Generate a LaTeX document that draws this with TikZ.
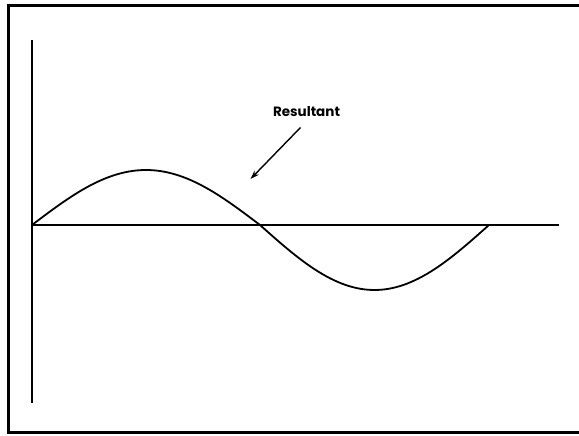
\documentclass[tikz,border=0pt]{standalone}
\usepackage{fontspec}
\setmainfont{Poppins}
\usetikzlibrary{arrows.meta}
\begin{document}
\begin{tikzpicture}[x=1pt,y=-1pt,
  frameline/.style={line width=3pt},
  axisline/.style={line width=1.4pt},
  wave/.style={line width=1.8pt},
  lbl/.style={font=\fontsize{13.5}{16}\selectfont\bfseries, inner sep=0pt}]
\useasboundingbox (0,0) rectangle (579,436);
% frame
\coordinate (ftr) at (579,6);
\coordinate (ftl) at (8.5,6);
\coordinate (fbl) at (8.5,432.5);
\coordinate (fbr) at (579,432.5);
\draw[frameline] (ftr) -- (ftl) -- (fbl) -- (fbr);
% axes
\coordinate (ytop) at (32,40);
\coordinate (ybot) at (32,403);
\coordinate (origin) at (32,225);
\coordinate (xend) at (559,225);
\draw[axisline] (ytop) -- (ybot);
\draw[axisline] (origin) -- (xend);
% resultant wave
\draw[wave,domain=0:180,samples=60,variable=\t] plot ({32+\t*1.26667},{225-55*sin(\t)});
\draw[wave,domain=0:180,samples=60,variable=\t] plot ({260+\t*1.27222},{225+65*sin(\t)});
% label and arrow
\node[lbl] (res) at (306.5,111.5) {Resultant};
\coordinate (atail) at (300.5,127.5);
\coordinate (ahead) at (250.5,179);
\draw[line width=1.4pt,-{Stealth[length=9pt,width=6pt]}] (atail) -- (ahead);
\end{tikzpicture}
\end{document}
